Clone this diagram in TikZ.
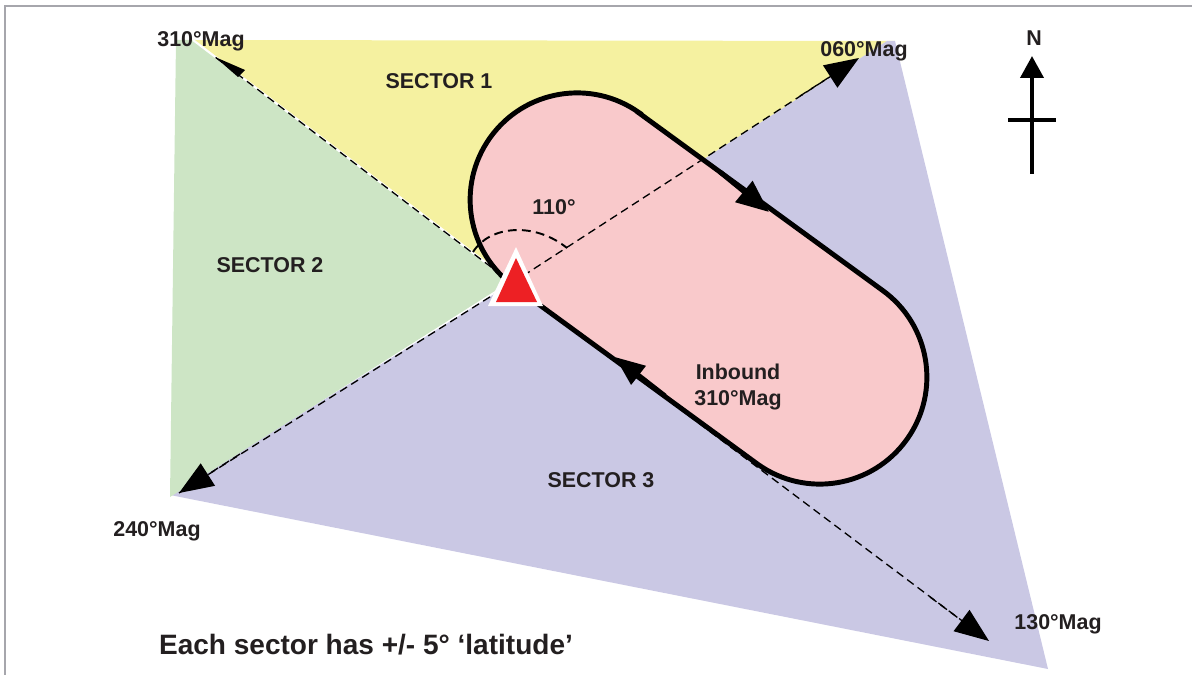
\documentclass[tikz,border=0pt]{standalone}
\usepackage{fontspec}
\setmainfont{Liberation Sans}
\usepackage{xcolor}
\definecolor{ink}{HTML}{231F20}
\definecolor{sectorone}{HTML}{F5F1A0}
\definecolor{sectortwo}{HTML}{CDE5C5}
\definecolor{sectorthree}{HTML}{CAC8E4}
\definecolor{holdpink}{HTML}{F9C9CB}
\definecolor{beaconred}{HTML}{ED2024}
\definecolor{frame}{HTML}{A6A6AC}
\usetikzlibrary{arrows.meta}
\tikzset{
    lbl/.style={font=\fontsize{12.2pt}{14.7pt}\selectfont\bfseries, text=ink, inner sep=0pt, align=center},
    ray/.style={dash pattern=on 4.6pt off 2.8pt, line width=0.75pt, black},
    rayhead/.style={-{Triangle[length=19.5pt,width=15pt]}},
    holdhead/.style={-{Triangle[length=17pt,width=13pt]}, line width=2.8pt}
}
\begin{document}
\begin{tikzpicture}[x=0.02cm, y=-0.02cm]
    \useasboundingbox (0,0) rectangle (1192,675);

    \coordinate (C) at (512,283);
    \coordinate (T310) at (215,57);
    \coordinate (T060) at (859,58);
    \coordinate (T240) at (179,493);
    \coordinate (T130) at (989,641);

    % Frame
    \draw[frame, line width=0.9pt] (5,675) -- (5,6) -- (1192,6);

    % Sectors
    \fill[sectorone] (193,40) -- (895,41) -- (887,41) -- (C) -- cycle;
    \fill[sectorthree] (887,41) -- (895,41) -- (1048,669) -- (170,495) -- (C) -- cycle;
    \fill[sectortwo] (176,40) -- (193,40) -- (509,282) -- (170,497) -- cycle;
    \draw[white, line width=1.2pt] (193,40) -- (505,277);

    % Holding pattern
    \draw[fill=holdpink, draw=black, line width=2.8pt]
        (639,113) -- (882,290) arc (-54.5:125.5:107)
        -- (515,287) arc (125.5:305.5:107) -- cycle;
    \draw[holdhead, -{Triangle[length=18.5pt,width=15pt]}] (720,172) -- (769,212);
    \draw[holdhead] (665,396) -- (615,357);

    % Sector boundaries
    \draw[ray] (C) -- (T310);
    \draw[ray] (C) -- (T060);
    \draw[ray] (C) -- (T240);
    \draw[ray] (C) -- (T130);
    \fill[black] (T310) -- (245,70) -- (238,77) -- cycle;
    \draw[rayhead, ray] (800,96) -- (T060);
    \draw[rayhead, ray] (240,454) -- (T240);
    \draw[rayhead, ray] (930,597) -- (T130);

    % Angle between sectors
    \draw[dash pattern=on 5pt off 3pt, line width=1.1pt]
        (473,252) .. controls (490,225) and (535,222) .. (567,248);

    % Beacon
    \fill[white] (516,247) -- (543,306) -- (488,306) -- cycle;
    \fill[beaconred] (516,258) -- (537,302) -- (496,302) -- cycle;

    % North arrow
    \draw[-{Triangle[length=12.5pt,width=13pt]}, line width=2.4pt] (1032,174) -- (1032,56);
    \draw[line width=2.5pt] (1008,120) -- (1056,120);
    \node[lbl] (north) at (1034,38) {N};

    % Labels
    \node[lbl] (mag310) at (201,41.5) {310°Mag};
    \node[lbl] (mag060) at (864,51.5) {060°Mag};
    \node[lbl] (mag240) at (157,531) {240°Mag};
    \node[lbl] (mag130) at (1058,624) {130°Mag};
    \node[lbl] (sectorA) at (439,81) {SECTOR 1};
    \node[lbl] (sectorB) at (270,265.5) {SECTOR 2};
    \node[lbl] (sectorC) at (601,480.5) {SECTOR 3};
    \node[lbl] (angle) at (554,207) {110°};
    \node[lbl] (inbound) at (738,387) {Inbound\\310°Mag};
    \node[lbl, font=\fontsize{15.95pt}{18pt}\selectfont\bfseries] (note) at (366,645) {Each sector has +/- 5° ‘latitude’};
\end{tikzpicture}
\end{document}
